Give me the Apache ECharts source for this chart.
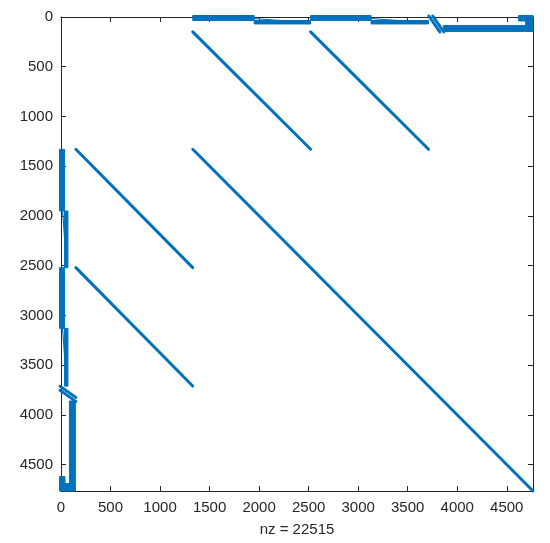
<!DOCTYPE html>
<html>
<head>
<meta charset="utf-8">
<script src="https://cdn.jsdelivr.net/npm/echarts@6/dist/echarts.min.js"></script>
<style>html,body{margin:0;padding:0;background:#fff;}#c{width:550px;height:543px;}</style>
</head>
<body>
<div id="c"></div>
<script>
// Matrix size (square, symmetric sparsity pattern)
const N = 4765;
const nzCount = 22515;
const tickValues = [0, 500, 1000, 1500, 2000, 2500, 3000, 3500, 4000, 4500];

// Dense band blocks in the upper part: [colStart, colEnd, rowStart, rowEnd]
const bandBlocks = [
  [1330, 1950, -15, 35],
  [1950, 2520, 35, 70],
  [2520, 3130, -15, 35],
  [3130, 3710, 35, 70],
  [3860, 4690, 85, 145],
  [4620, 4765, -15, 40],
  [4690, 4765, 40, 145]
];

// Diagonal stripes (upper part): [colStart, rowStart, colEnd, rowEnd]
const diagStripes = [
  [1330, 150, 2520, 1330],
  [2520, 150, 3710, 1330],
  [3713, -10, 3824, 150],
  [3753, -10, 3864, 150]
];

// Thin connectors inside the top bands: [colStart, rowStart, colEnd, rowEnd]
const thinLinks = [
  [1880, 10, 2520, 60],
  [3060, 10, 3710, 60]
];

// Main diagonal segment (self-symmetric)
const mainDiag = [[1330, 1330, 4765, 4765]];

// The pattern is symmetric: add the transposed entries
const allBlocks = bandBlocks.concat(bandBlocks.map(b => [b[2], b[3], b[0], b[1]]));
const allStripes = diagStripes.concat(diagStripes.map(s => [s[1], s[0], s[3], s[2]])).concat(mainDiag);
const allThin = thinLinks.concat(thinLinks.map(s => [s[1], s[0], s[3], s[2]]));

const BLUE = '#0072BD';
const AX = '#262626';
const FONT = '"Liberation Sans", Arial, sans-serif';

function rectItem(params, api) {
  const p0 = api.coord([api.value(0), api.value(2)]);
  const p1 = api.coord([api.value(1), api.value(3)]);
  return {
    type: 'rect',
    shape: {
      x: Math.min(p0[0], p1[0]),
      y: Math.min(p0[1], p1[1]),
      width: Math.abs(p1[0] - p0[0]),
      height: Math.abs(p1[1] - p0[1])
    },
    style: { fill: BLUE, stroke: BLUE, lineWidth: 1 }
  };
}
function lineItemFactory(w) {
  return function (params, api) {
    const p0 = api.coord([api.value(0), api.value(1)]);
    const p1 = api.coord([api.value(2), api.value(3)]);
    return {
      type: 'line',
      shape: { x1: p0[0], y1: p0[1], x2: p1[0], y2: p1[1] },
      style: { stroke: BLUE, lineWidth: w, lineCap: 'round' }
    };
  };
}

const axisCommon = {
  type: 'value', min: 0, max: N, interval: 500,
  splitLine: { show: false },
  axisLine: { show: true, onZero: false, lineStyle: { color: AX, width: 1 } },
  axisTick: { show: true, inside: true, length: 5, lineStyle: { color: AX } }
};

const chart = echarts.init(document.getElementById('c'), null, { renderer: 'canvas' });
chart.setOption({
  animation: false,
  backgroundColor: '#fff',
  grid: { left: 61, top: 17, width: 472, height: 474, containLabel: false },
  xAxis: [
    Object.assign({}, axisCommon, {
      position: 'bottom',
      name: 'nz = ' + nzCount,
      nameLocation: 'middle', nameGap: 31,
      nameTextStyle: { color: AX, fontSize: 15, fontFamily: FONT },
      axisLabel: { color: AX, fontSize: 15, fontFamily: FONT, margin: 9, showMaxLabel: false,
        formatter: v => (tickValues.indexOf(v) >= 0 ? String(v) : '') }
    }),
    Object.assign({}, axisCommon, { position: 'top', axisLabel: { show: false } })
  ],
  yAxis: [
    Object.assign({}, axisCommon, {
      position: 'left', inverse: true,
      axisLabel: { color: AX, fontSize: 15, fontFamily: FONT, margin: 8, showMaxLabel: false,
        formatter: v => (tickValues.indexOf(v) >= 0 ? String(v) : '') }
    }),
    Object.assign({}, axisCommon, { position: 'right', inverse: true, axisLabel: { show: false } })
  ],
  series: [
    { type: 'custom', renderItem: rectItem, data: allBlocks, clip: false,
      encode: { x: [0, 1], y: [2, 3] } },
    { type: 'custom', renderItem: lineItemFactory(3), data: allStripes, clip: false,
      encode: { x: [0, 2], y: [1, 3] } },
    { type: 'custom', renderItem: lineItemFactory(1.2), data: allThin, clip: false,
      encode: { x: [0, 2], y: [1, 3] } }
  ]
});
</script>
</body>
</html>
